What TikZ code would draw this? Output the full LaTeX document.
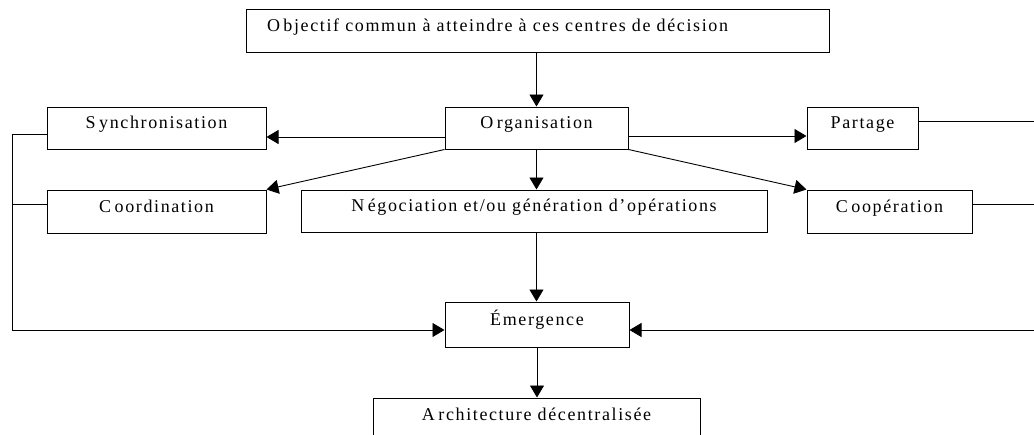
\documentclass[tikz,border=0pt]{standalone}
\usepackage{fontspec}
\setmainfont{Liberation Serif}[LetterSpace=9]
\usetikzlibrary{arrows.meta}
\newcommand{\capgap}{\kern3.5pt}
\begin{document}
\begin{tikzpicture}[x=1pt,y=-1pt,
  box/.style={draw,line width=1pt,inner sep=0pt,font=\fontsize{18}{20}\selectfont,
    text height=12.5pt,text depth=11.5pt,minimum height=42pt},
  link/.style={line width=0.9pt},
  arr/.style={link,-{Triangle[length=12pt,width=14pt]}}]
\useasboundingbox (0,0) rectangle (1034,434);
\clip (0,0) rectangle (1034,434);
% boxes
\node[box,minimum width=583pt,minimum height=43pt] (obj) at (537.5,30.5) {O\capgap bjectif commun à atteindre à ces centres de décision\kern80pt};
\node[box,minimum width=183pt] (org) at (536.5,128) {O\capgap rganisation};
\node[box,minimum width=219pt] (sync) at (156.5,128) {S\capgap ynchronisation};
\node[box,minimum width=111pt] (part) at (862.5,128) {Partage};
\node[box,minimum width=219pt,minimum height=43pt] (coord) at (156.5,211.5) {C\capgap oordination};
\node[box,minimum width=466pt] (nego) at (534,211) {N\capgap égociation et/ou génération d’opérations};
\node[box,minimum width=165pt,minimum height=43pt] (coop) at (889.5,211.5) {C\capgap oopération};
\node[box,minimum width=184pt,minimum height=45pt] (emer) at (537,324.5) {Émergence};
\node[box,minimum width=327pt,minimum height=44pt] (arch) at (536.5,420) {A\capgap rchitecture décentralisée};
% side rails
\coordinate (lrail) at (12,330);
\coordinate (rrail) at (1040,330);
% arrows from the top
\draw[arr] (obj.south -| org.south) -- (org.north);
\draw[arr] ([yshift=-9pt]org.west) -- ([yshift=-9pt]sync.east);
\draw[arr] ([yshift=-8pt]org.east) -- ([yshift=-8pt]part.west);
\draw[arr] (org.south west) -- (coord.north east);
\draw[arr] (org.south east) -- (coop.north west);
\draw[arr] (org.south) -- (org.south |- nego.north);
\draw[arr] (nego.south -| org.south) -- (org.south |- emer.north);
\draw[arr] (emer.south) -- (emer.south |- arch.north);
% left feedback
\draw[link] ([yshift=-6pt]sync.west) -| (lrail);
\draw[link] ([yshift=7pt]coord.west) -- ([yshift=7pt]coord.west -| lrail);
\draw[arr] (lrail) -- ([yshift=-5.5pt]emer.west);
% right feedback
\draw[link] ([yshift=7pt]part.east) -| (rrail);
\draw[link] ([yshift=7pt]coop.east) -- ([yshift=7pt]coop.east -| rrail);
\draw[arr] (rrail) -- ([yshift=-5.5pt]emer.east);
\end{tikzpicture}
\end{document}
